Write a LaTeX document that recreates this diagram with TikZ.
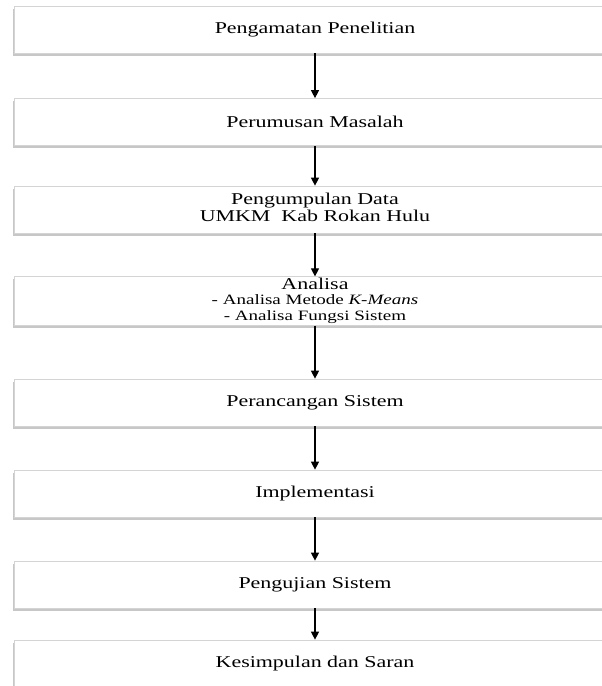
\documentclass[tikz,border=0pt]{standalone}
\usepackage{fontspec}
\setmainfont{Liberation Serif}
\usetikzlibrary{arrows.meta,shadows}
\newcommand\widetxt[1]{\scalebox{1.33}[1]{#1}}
\newcommand\subsize{\fontsize{14.3}{16}\selectfont}
\begin{document}
\begin{tikzpicture}[x=1pt,y=-1pt,
  stepbox/.style={draw=black!17, line width=0.7pt, fill=white,
    minimum width=602pt, minimum height=47pt, inner sep=0pt,
    font=\fontsize{16.5}{17.5}\selectfont,
    drop shadow={shadow xshift=-0.8pt, shadow yshift=-2.5pt, fill=black!22, opacity=1}},
  arr/.style={line width=1.1pt, -{Triangle[width=8pt,length=8pt]}}]
\useasboundingbox (0,0) rectangle (602,686);
\clip (0,0) rectangle (602,686);
\node[stepbox] (b1) at (315,29.5) {\widetxt{Pengamatan Penelitian}};
\node[stepbox] (b2) at (315,122) {\widetxt{Perumusan Masalah}};
\node[stepbox] (b3) at (315,209.5) {\begin{tabular}{@{}c@{}}\widetxt{Pengumpulan Data}\\[-0.5pt]\widetxt{UMKM\ \ Kab Rokan Hulu}\end{tabular}};
\node[stepbox] (b4) at (315,301) {\begin{tabular}{@{}c@{}}\widetxt{Analisa}\\[-2pt]{\subsize\widetxt{- Analisa Metode \textit{K-Means}}}\\[-2pt]{\subsize\widetxt{- Analisa Fungsi Sistem}}\end{tabular}};
\node[stepbox] (b5) at (315,402.5) {\widetxt{Perancangan Sistem}};
\node[stepbox] (b6) at (315,493.5) {\widetxt{Implementasi}};
\node[stepbox] (b7) at (315,584.5) {\widetxt{Pengujian Sistem}};
\node[stepbox] (b8) at (315,663.5) {\widetxt{Kesimpulan dan Saran}};
\draw[arr] (b1.south) -- (b2.north);
\draw[arr] (b2.south) -- (b3.north);
\draw[arr] (b3.south) -- (b4.north);
\draw[arr] (b4.south) -- (b5.north);
\draw[arr] (b5.south) -- (b6.north);
\draw[arr] (b6.south) -- (b7.north);
\draw[arr] (b7.south) -- (b8.north);
\end{tikzpicture}
\end{document}
